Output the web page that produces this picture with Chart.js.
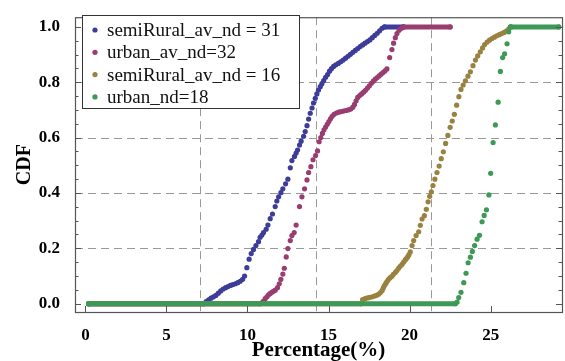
<!DOCTYPE html>
<html lang="en">
<head>
  <meta charset="UTF-8">
  <title>CDF of percentage</title>
  <script src="https://cdn.jsdelivr.net/npm/chart.js"></script>
  <style>
    html, body { margin: 0; padding: 0; background: #fff; }
  </style>
</head>
<body>
  <canvas id="myChart" width="565" height="361"></canvas>

  <script>
    // series names and colours (Mathematica default palette)
    var seriesLabels = ['semiRural_av_nd = 31', 'urban_av_nd=32', 'semiRural_av_nd = 16', 'urban_nd=18'];
    var seriesColors = ['#3d3d99', '#993d71', '#998240', '#3d9955'];

    // [percentage, cdf]
    var semiRural31 = [
      [0.2,0],[7.3,0],[7.45,0.008],[7.6,0.014],[7.75,0.02],[7.9,0.025],[8.05,0.03],[8.2,0.038],[8.35,0.046],
      [8.5,0.053],[8.65,0.058],[8.8,0.062],[8.95,0.066],[9.1,0.069],[9.25,0.072],[9.4,0.076],[9.55,0.081],
      [9.7,0.088],[9.82,0.1],[9.96,0.13],[10.1,0.161],[10.23,0.181],[10.37,0.196],[10.52,0.21],[10.68,0.224],
      [10.78,0.24],[10.89,0.248],[10.99,0.257],[11.15,0.269],[11.26,0.284],[11.4,0.307],[11.54,0.324],
      [11.71,0.351],[11.81,0.371],[11.92,0.386],[12.06,0.401],[12.18,0.415],[12.35,0.433],[12.49,0.45],
      [12.64,0.491],[12.74,0.517],[12.9,0.532],[13.0,0.544],[13.09,0.555],[13.21,0.573],[13.31,0.587],
      [13.46,0.605],[13.56,0.622],[13.67,0.643],[13.77,0.667],[13.87,0.688],[13.98,0.707],[14.07,0.725],
      [14.18,0.742],[14.28,0.758],[14.38,0.772],[14.49,0.784],[14.59,0.795],[14.7,0.806],[14.82,0.818],
      [14.94,0.828],[15.06,0.84],[15.18,0.849],[15.31,0.857],[15.45,0.863],[15.6,0.868],[15.75,0.874],
      [15.9,0.88],[16.05,0.887],[16.2,0.894],[16.35,0.901],[16.5,0.908],[16.65,0.915],[16.8,0.922],
      [16.95,0.929],[17.1,0.935],[17.25,0.941],[17.4,0.947],[17.55,0.953],[17.7,0.961],[17.85,0.969],
      [18.0,0.977],[18.15,0.986],[18.3,0.995],[18.45,1.0],[19.6,1.0]
    ];
    var urban32 = [
      [0.2,0],[10.8,0],[10.95,0.008],[11.09,0.018],[11.2,0.025],[11.3,0.032],[11.4,0.037],[11.5,0.041],
      [11.6,0.045],[11.71,0.049],[11.85,0.058],[11.96,0.072],[12.06,0.088],[12.18,0.107],[12.27,0.128],
      [12.39,0.169],[12.49,0.199],[12.64,0.228],[12.74,0.246],[12.88,0.257],[13.0,0.284],[13.21,0.351],
      [13.36,0.386],[13.52,0.415],[13.67,0.447],[13.77,0.474],[13.91,0.495],[14.04,0.52],[14.2,0.535],
      [14.32,0.552],[14.42,0.585],[14.52,0.6],[14.62,0.615],[14.72,0.628],[14.82,0.638],[14.92,0.648],
      [15.02,0.658],[15.12,0.668],[15.22,0.677],[15.34,0.684],[15.48,0.689],[15.62,0.692],[15.77,0.694],
      [15.92,0.696],[16.07,0.698],[16.22,0.7],[16.37,0.703],[16.5,0.71],[16.6,0.72],[16.7,0.733],
      [16.8,0.745],[16.92,0.752],[17.04,0.758],[17.16,0.764],[17.28,0.771],[17.4,0.779],[17.52,0.787],
      [17.64,0.796],[17.76,0.804],[17.88,0.811],[18.0,0.817],[18.12,0.823],[18.24,0.829],[18.36,0.835],
      [18.48,0.841],[18.6,0.848],[18.77,0.889],[18.91,0.918],[19.01,0.941],[19.12,0.961],[19.22,0.976],
      [19.35,0.988],[19.5,0.995],[19.65,1.0],[22.5,1.0]
    ];
    var semiRural16 = [
      [0.2,0],[17.0,0],[17.1,0.015],[17.25,0.018],[17.4,0.021],[17.55,0.023],[17.7,0.025],[17.85,0.028],
      [18.0,0.031],[18.1,0.035],[18.2,0.04],[18.3,0.047],[18.37,0.056],[18.43,0.064],[18.5,0.07],
      [18.56,0.076],[18.63,0.082],[18.7,0.088],[18.8,0.094],[18.91,0.099],[19.0,0.106],[19.12,0.113],
      [19.22,0.12],[19.32,0.128],[19.42,0.135],[19.53,0.142],[19.63,0.15],[19.73,0.158],[19.8,0.163],
      [19.88,0.169],[19.96,0.177],[20.04,0.187],[20.15,0.21],[20.25,0.228],[20.4,0.246],[20.56,0.26],
      [20.66,0.283],[20.77,0.306],[20.91,0.318],[21.03,0.341],[21.14,0.368],[21.24,0.388],[21.34,0.404],
      [21.44,0.427],[21.56,0.45],[21.69,0.474],[21.82,0.497],[21.95,0.524],[22.08,0.549],[22.22,0.579],
      [22.36,0.608],[22.5,0.637],[22.63,0.66],[22.76,0.684],[22.9,0.717],[23.04,0.748],[23.17,0.774],
      [23.3,0.79],[23.44,0.805],[23.6,0.822],[23.75,0.838],[23.91,0.86],[24.06,0.88],[24.2,0.895],
      [24.36,0.91],[24.5,0.924],[24.63,0.936],[24.78,0.945],[24.93,0.952],[25.08,0.958],[25.23,0.963],
      [25.38,0.968],[25.53,0.972],[25.68,0.976],[25.83,0.98],[25.98,0.986],[26.12,0.993],[26.26,1.0]
    ];
    var urban18 = [
      [0.2,0],[22.82,0],[22.93,0.006],[23.03,0.022],[23.17,0.041],[23.34,0.076],[23.48,0.11],[23.61,0.148],
      [23.75,0.168],[23.87,0.189],[24.01,0.21],[24.16,0.233],[24.31,0.247],[24.47,0.296],[24.6,0.319],
      [24.74,0.339],[24.89,0.393],[25.0,0.471],[25.15,0.582],[25.29,0.646],[25.46,0.728],[25.6,0.839],
      [25.74,0.889],[25.86,0.903],[26.01,0.939],[26.11,0.982],[26.22,1.0],[29.2,1.0]
    ];

    var xTicks = [0, 5, 10, 15, 20, 25];
    var yTicks = [0, 0.2, 0.4, 0.6, 0.8, 1.0];
    var yMinorTicks = [0.05, 0.1, 0.15, 0.25, 0.3, 0.35, 0.45, 0.5, 0.55, 0.65, 0.7, 0.75, 0.85, 0.9, 0.95];
    var xGridLines = [7.1, 14.2, 21.3];
    var yGridLines = [0.2, 0.4, 0.6, 0.8];

    var serif = "'Liberation Serif', 'DejaVu Serif', serif";

    // flat runs (cdf 0 or 1) are drawn as thick round-capped lines, the rest only as dots
    function flatOnly(ctx) {
      var a = ctx.p0.parsed.y, b = ctx.p1.parsed.y;
      return (a === b && (a === 0 || a === 1)) ? undefined : 'rgba(0,0,0,0)';
    }

    function makeSet(i, pts) {
      return {
        label: seriesLabels[i],
        data: pts.map(function (p) { return { x: p[0], y: p[1] }; }),
        showLine: true,
        borderColor: seriesColors[i],
        backgroundColor: seriesColors[i],
        borderWidth: 5,
        borderCapStyle: 'round',
        pointRadius: 2.6,
        pointBorderWidth: 0,
        pointHoverRadius: 2.6,
        segment: { borderColor: flatOnly },
        order: 4 - i
      };
    }

    // frame, inward ticks, dashed grid and the boxed legend
    var framePlugin = {
      id: 'frame',
      beforeDatasetsDraw: function (chart) {
        var c = chart.ctx, a = chart.chartArea;
        var xs = chart.scales.x, ys = chart.scales.y;
        c.save();
        c.strokeStyle = '#999';
        c.lineWidth = 1;
        c.setLineDash([8, 5]);
        xGridLines.forEach(function (v) {
          var px = Math.round(xs.getPixelForValue(v)) + 0.5;
          c.beginPath(); c.moveTo(px, a.top); c.lineTo(px, a.bottom); c.stroke();
        });
        yGridLines.forEach(function (v) {
          var py = Math.round(ys.getPixelForValue(v)) + 0.5;
          c.beginPath(); c.moveTo(a.left, py); c.lineTo(a.right, py); c.stroke();
        });
        c.restore();
      },
      afterDatasetsDraw: function (chart) {
        var c = chart.ctx, a = chart.chartArea;
        var xs = chart.scales.x, ys = chart.scales.y;
        c.save();
        c.strokeStyle = '#555';
        c.lineWidth = 1.2;
        c.strokeRect(a.left + 0.5, a.top + 0.5, a.right - a.left, a.bottom - a.top);
        c.lineWidth = 1;
        c.beginPath();
        yTicks.forEach(function (v) {
          var py = Math.round(ys.getPixelForValue(v)) + 0.5;
          c.moveTo(a.left, py); c.lineTo(a.left + 6, py);
          c.moveTo(a.right, py); c.lineTo(a.right - 6, py);
        });
        yMinorTicks.forEach(function (v) {
          var py = Math.round(ys.getPixelForValue(v)) + 0.5;
          c.moveTo(a.left, py); c.lineTo(a.left + 3.5, py);
          c.moveTo(a.right, py); c.lineTo(a.right - 3.5, py);
        });
        xTicks.forEach(function (v) {
          var px = Math.round(xs.getPixelForValue(v)) + 0.5;
          c.moveTo(px, a.bottom); c.lineTo(px, a.bottom - 6);
        });
        c.stroke();

        // legend box
        var bx = 82, by = 15, bw = 217, bh = 93;
        c.fillStyle = '#fff';
        c.fillRect(bx, by, bw, bh);
        c.strokeStyle = '#333';
        c.lineWidth = 1;
        c.strokeRect(bx + 0.5, by + 0.5, bw, bh);
        c.font = '19px ' + serif;
        c.textBaseline = 'middle';
        seriesLabels.forEach(function (t, i) {
          var y = by + 15 + i * 22.3;
          c.fillStyle = seriesColors[i];
          c.beginPath(); c.arc(bx + 13, y, 2.6, 0, Math.PI * 2); c.fill();
          c.fillStyle = '#111';
          c.fillText(t, bx + 25, y + 1);
        });
        c.restore();
      }
    };

    var ctx = document.getElementById('myChart').getContext('2d');
    var myChart = new Chart(ctx, {
      type: 'scatter',
      data: {
        datasets: [
          makeSet(0, semiRural31),
          makeSet(1, urban32),
          makeSet(2, semiRural16),
          makeSet(3, urban18)
        ]
      },
      options: {
        responsive: false,
        animation: false,
        layout: { padding: { top: 8, right: 3, left: 0, bottom: 0 } },
        plugins: {
          legend: { display: false },
          tooltip: { enabled: false }
        },
        scales: {
          x: {
            type: 'linear',
            min: -0.64,
            max: 29.4,
            afterBuildTicks: function (s) { s.ticks = xTicks.map(function (v) { return { value: v }; }); },
            afterFit: function (s) { s.height = 49; },
            grid: { display: false },
            border: { display: false },
            ticks: {
              autoSkip: false,
              maxRotation: 0,
              padding: 5,
              color: '#000',
              font: { family: serif, size: 17, weight: 'bold' },
              callback: function (v) { return v; }
            },
            title: {
              display: true,
              text: 'Percentage(%)',
              color: '#000',
              font: { family: serif, size: 21, weight: 'bold', lineHeight: 1.2 },
              padding: { top: 0, bottom: -2 }
            }
          },
          y: {
            type: 'linear',
            min: -0.03,
            max: 1.035,
            afterBuildTicks: function (s) { s.ticks = yTicks.map(function (v) { return { value: v }; }); },
            afterFit: function (s) { s.width = 75; },
            grid: { display: false },
            border: { display: false },
            ticks: {
              autoSkip: false,
              padding: 7,
              color: '#000',
              font: { family: serif, size: 17, weight: 'bold' },
              callback: function (v) { return v.toFixed(1); }
            },
            title: {
              display: true,
              text: 'CDF',
              color: '#000',
              font: { family: serif, size: 20, weight: 'bold', lineHeight: 1.2 },
              padding: { top: 13, bottom: 0 }
            }
          }
        }
      },
      plugins: [framePlugin]
    });
  </script>
</body>
</html>
